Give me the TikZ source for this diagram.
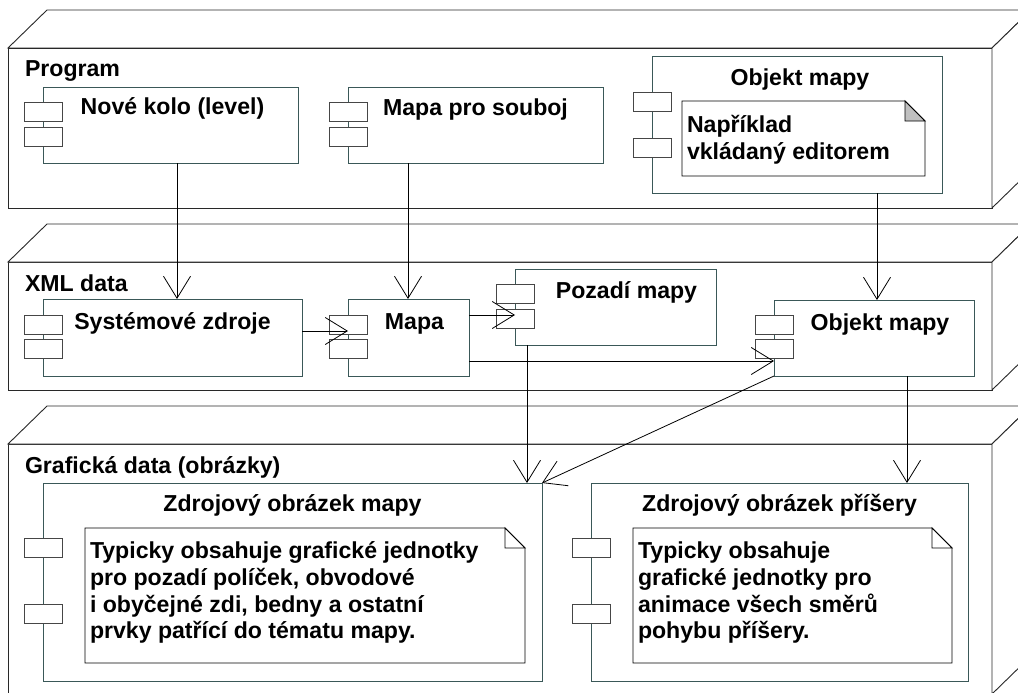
\documentclass[tikz,border=0pt]{standalone}
\usepackage{fontspec}
\setmainfont{Liberation Sans}
\usetikzlibrary{arrows.meta,calc}

\definecolor{pkgline}{RGB}{40,40,40}
\definecolor{compline}{RGB}{58,88,88}
\definecolor{tabline}{RGB}{70,70,70}
\definecolor{foldgray}{RGB}{192,192,192}

\tikzset{
  every node/.style={font=\fontsize{23.1pt}{27pt}\selectfont\bfseries, inner sep=0pt, outer sep=0pt},
  pkgfront/.style={draw=pkgline, fill=white, line width=0.9pt, minimum width=984pt, anchor=north west},
  pkgface/.style={draw=pkgline, fill=white, line width=0.9pt, line join=miter},
  comp/.style={draw=compline, fill=white, line width=0.9pt},
  comptab/.style={draw=tabline, fill=white, line width=0.9pt, minimum width=38pt, minimum height=19pt, anchor=north},
  notearea/.style={minimum width=0pt},
  noteline/.style={draw=black, fill=white, line width=0.9pt, line join=miter},
  title/.style={anchor=base},
  label/.style={anchor=base west},
  assoc/.style={draw=black, line width=0.8pt, -{Straight Barb[length=22pt,width=27pt,line width=0.8pt]}}
}

\begin{document}
\begin{tikzpicture}[x=1pt, y=-1pt]
\useasboundingbox (0,0) rectangle (1018,693);
\clip (0,0) rectangle (1018,693);
\fill[white] (0,0) rectangle (1018,693);

% ---------- packages (front face + top and side faces) ----------
\node[pkgfront, minimum height=160pt] (pkA) at (8,48) {};
\node[pkgfront, minimum height=128pt] (pkB) at (8,262) {};
\node[pkgfront, minimum height=250pt] (pkC) at (8,444) {};
\foreach \p in {pkA,pkB,pkC}{
  \draw[pkgface] (\p.north west) -- ++(39,-38) -- ($(\p.north east)+(39,-38)$) -- (\p.north east) -- cycle;
  \draw[pkgface] (\p.north east) -- ++(39,-38) -- ($(\p.south east)+(39,-38)$) -- (\p.south east) -- cycle;
}
\node[label] (lA) at (25,77) {Program};
\node[label] (lB) at (25,291.5) {XML data};
\node[label] (lC) at (25,473.5) {Grafická data (obrázky)};

% ---------- components ----------
\node[comp, minimum width=255pt, minimum height=76pt] (nk)   at (170.5,125)  {};
\node[comp, minimum width=255pt, minimum height=76pt] (mps)  at (475.5,125)  {};
\node[comp, minimum width=290pt, minimum height=137pt] (omp) at (797,124.5)  {};
\node[comp, minimum width=259pt, minimum height=77pt] (sz)   at (172.5,337.5) {};
\node[comp, minimum width=121pt, minimum height=77pt] (mapa) at (408.5,337.5) {};
\node[comp, minimum width=201pt, minimum height=76pt] (poz)  at (615.5,307)  {};
\node[comp, minimum width=200pt, minimum height=76pt] (omx)  at (874,338)    {};
\node[comp, minimum width=499pt, minimum height=198pt] (zm)  at (292.5,582)  {};
\node[comp, minimum width=377pt, minimum height=198pt] (zp)  at (779.5,582)  {};

% component tabs on the left edge
\foreach \c/\a/\b in {nk/15/40, mps/15/40, omp/36/82, sz/16/40, mapa/16/40, poz/15/40, omx/15/39, zm/55/121, zp/55/121}{
  \node[comptab] at ($(\c.north west)+(0,\a)$) {};
  \node[comptab] at ($(\c.north west)+(0,\b)$) {};
}

% component titles
\node[title] at ([xshift=2pt]nk.center |- 0,114)    {Nové kolo (level)};
\node[title] at (mps.center |- 0,115.5) {Mapa pro souboj};
\node[title] at ([xshift=3pt]omp.center |- 0,85)    {Objekt mapy};
\node[title] at (sz.center |- 0,329)    {Systémové zdroje};
\node[title] at ([xshift=6pt]mapa.center |- 0,329) {Mapa};
\node[title] at ([xshift=11pt]poz.center |- 0,298) {Pozadí mapy};
\node[title] at ([xshift=6pt]omx.center |- 0,330.5) {Objekt mapy};
\node[title] at (zm.center |- 0,511.5)  {Zdrojový obrázek mapy};
\node[title] at (zp.center |- 0,511.5)  {Zdrojový obrázek příšery};

% ---------- notes with a folded corner ----------
\node[notearea, minimum width=243pt, minimum height=75pt]  (n1) at (803.5,138.5) {};
\node[notearea, minimum width=440pt, minimum height=135pt] (n2) at (305,595.5)   {};
\node[notearea, minimum width=319pt, minimum height=135pt] (n3) at (792.5,595.5) {};
\foreach \n/\f in {n1/foldgray, n2/white, n3/white}{
  \draw[noteline] (\n.north west) -- ([xshift=-20pt]\n.north east) -- ([yshift=-20pt]\n.north east)
    -- (\n.south east) -- (\n.south west) -- cycle;
  \draw[noteline, fill=\f] ([xshift=-20pt]\n.north east) -- ([xshift=-20pt,yshift=-20pt]\n.north east)
    -- ([yshift=-20pt]\n.north east) -- cycle;
}
\node[label] (t11) at (687,132.5) {Například};
\node[label] (t12) at (687,159)   {vkládaný editorem};

\node[label] (t21) at (90,558)   {Typicky obsahuje grafické jednotky};
\node[label] (t22) at (90,585)   {pro pozadí políček, obvodové};
\node[label] (t23) at (90,612)   {i obyčejné zdi, bedny a ostatní};
\node[label] (t24) at (90,638.5) {prvky patřící do tématu mapy.};

\node[label] (t31) at (638,558)   {Typicky obsahuje};
\node[label] (t32) at (638,585)   {grafické jednotky pro};
\node[label] (t33) at (638,612)   {animace všech směrů};
\node[label] (t34) at (638,638.5) {pohybu příšery.};

% ---------- connectors ----------
\coordinate (c1) at (177,0);
\coordinate (c2) at (408,0);
\coordinate (c3) at (877,0);
\coordinate (c7) at (527,0);
\coordinate (c9) at (907,0);
\coordinate (r4) at (0,331);
\coordinate (r5) at (0,315);
\coordinate (r6) at (0,361);

\draw[assoc] (nk.south -| c1)  -- (sz.north -| c1);
\draw[assoc] (mps.south -| c2) -- (mapa.north -| c2);
\draw[assoc] (omp.south -| c3) -- (omx.north -| c3);
\draw[assoc] (sz.east |- r4)   -- (mapa.west |- r4);
\draw[assoc] (mapa.east |- r5) -- (poz.west |- r5);
\draw[assoc] (mapa.east |- r6) -- (omx.west |- r6);
\draw[assoc] (poz.south -| c7) -- (zm.north -| c7);
\draw[assoc] (omx.south west)  -- (zm.north east);
\draw[assoc] (omx.south -| c9) -- (zp.north -| c9);
\end{tikzpicture}
\end{document}
